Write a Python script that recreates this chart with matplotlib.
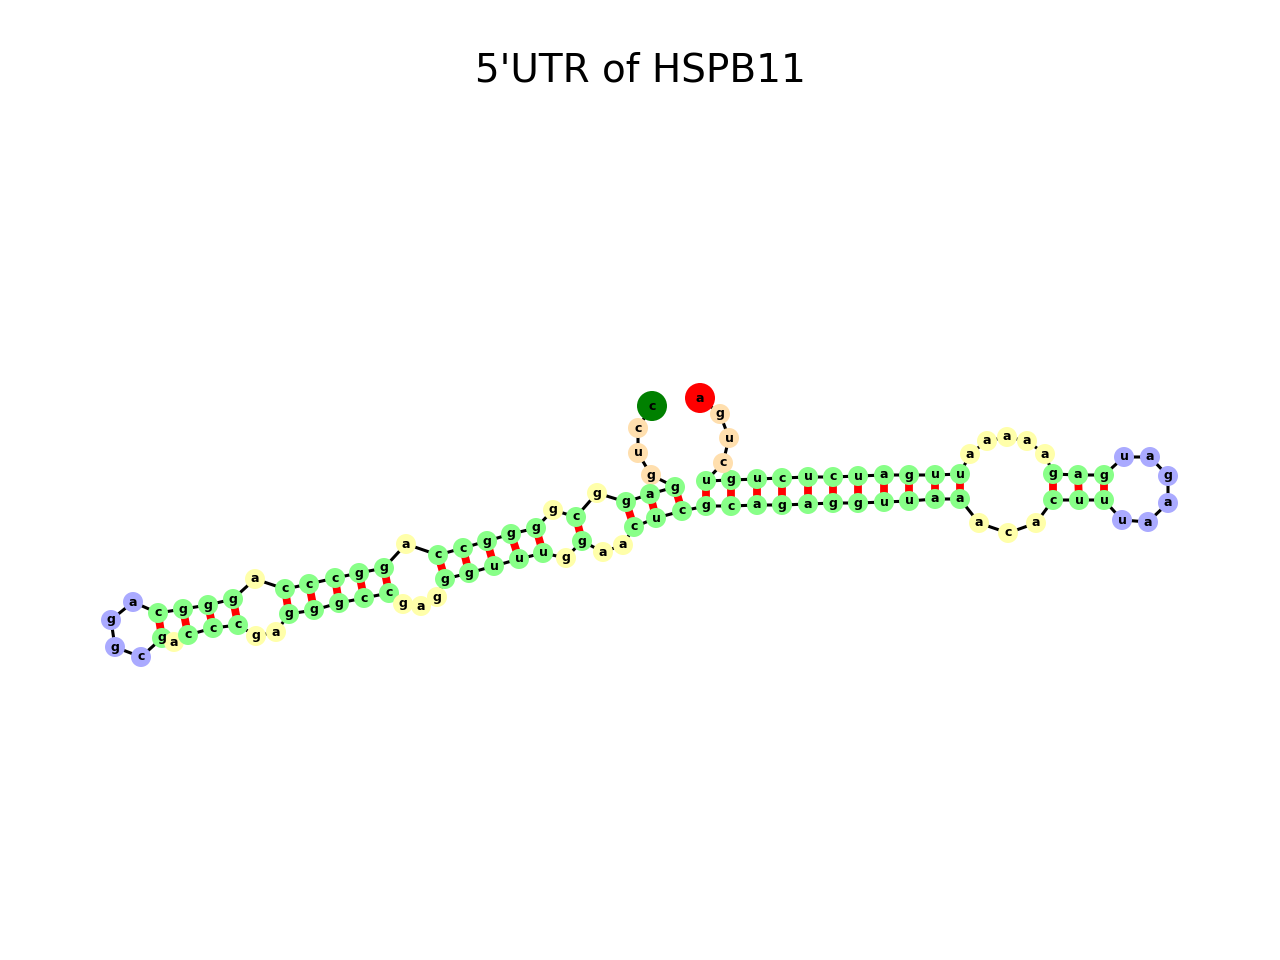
import numpy as np
import matplotlib
matplotlib.use("Agg")
from matplotlib import pyplot as plt

#------------------------------------------------------------------------------
# Secuencia, estructura y posiciones (en px de la imagen).
seq = ("ccug"
       "gaggcggggccaggcccagggc"
       "aggc"
       "gacccgagggccgaggguuuggaacuc"
       "gcagagguuaa" "aca" "cuu" "uaagau" "gag" "aaaaa" "uugaucucugu"
       "cuga")

structure = ("...."
             "(((.(.(((((.(((((.(((("
             "...."
             ").)))..)))))...))))).)..)))"
             "(((((((((((" "..." "(((" "......" ")))" "....." ")))))))))))"
             "....")

x = [652, 638, 638, 651,
     675, 650, 626, 597, 576, 553, 536, 511, 487, 463, 438, 406,
     384, 359, 335, 309, 285, 255, 233, 208, 183, 158,
     133, 111, 115, 141,
     162, 174, 188, 213, 238, 256, 276, 289, 314, 339, 364, 389,
     403, 421, 437, 445, 469, 494, 519, 543, 566, 582, 603, 623,
     634, 656, 682,
     706, 731, 757, 782, 808, 833, 858, 884, 909, 935, 960,
     979, 1008, 1036, 1053, 1079, 1104,
     1122, 1148, 1168, 1168, 1150, 1124,
     1104, 1078, 1053, 1045, 1027, 1007, 987, 970,
     960, 935, 909, 884, 858, 833, 808, 782, 757, 731, 706,
     723, 729, 720, 700]
y = [406, 428, 453, 475,
     487, 494, 502, 493, 517, 510, 528, 534, 541, 548, 555, 544,
     568, 573, 578, 584, 589, 579, 599, 605, 609, 613,
     602, 620, 647, 657,
     638, 642, 635, 628, 625, 636, 632, 614, 610, 603, 598, 593,
     604, 606, 597, 579, 573, 566, 559, 553, 558, 541, 552, 545,
     527, 518, 511,
     506, 506, 505, 505, 504, 503, 503, 502, 501, 499, 499,
     523, 533, 523, 500, 500, 500,
     520, 522, 503, 476, 457, 457,
     475, 475, 474, 454, 441, 437, 441, 454,
     474, 475, 475, 475, 476, 477, 477, 478, 479, 480, 481,
     463, 438, 414, 398]

titulo = "5'UTR of HSPB11"

colores = {"s": "#88ff88", "i": "#ffffaa", "h": "#aaaaff", "f": "#ffdfae"}

assert len(seq) == len(structure) == len(x) == len(y)

#------------------------------------------------------------------------------
# Pares de bases a partir del dot-bracket.
pila = []
pares = []
pareja = [-1] * len(structure)
for i, ch in enumerate(structure):
    if ch == "(":
        pila.append(i)
    elif ch == ")":
        j = pila.pop()
        pares.append((j, i))
        pareja[i] = j
        pareja[j] = i

# Tipo de elemento de cada nucleotido.
tipo = []
for i, ch in enumerate(structure):
    if ch != ".":
        tipo.append("s")
        continue
    # buscamos el par que lo encierra
    prof = 0
    k = i - 1
    cierre = -1
    while k >= 0:
        if structure[k] == ")":
            prof += 1
        elif structure[k] == "(":
            if prof == 0:
                cierre = k
                break
            prof -= 1
        k -= 1
    if cierre < 0:
        tipo.append("f")
        continue
    # contamos pares internos del bucle
    internos = 0
    k = cierre + 1
    while k < pareja[cierre]:
        if structure[k] == "(":
            internos += 1
            k = pareja[k] + 1
        else:
            k += 1
    tipo.append("h" if internos == 0 else "i")

#------------------------------------------------------------------------------
fig = plt.figure(figsize=(6.4, 4.8), dpi=200)
ax = fig.add_axes([0, 0, 1, 1])
ax.set_xlim(0, 1280)
ax.set_ylim(960, 0)
ax.axis("off")

# Esqueleto.
ax.plot(x, y, color="black", linewidth=1.1, zorder=0)
# Pares de bases.
for a, b in pares:
    ax.plot([x[a], x[b]], [y[a], y[b]], color="red", linewidth=2.8, zorder=0)

# Circulos y letras.
n = len(seq)
for i in range(n):
    r = 10
    c = colores[tipo[i]]
    if i == 0:
        c, r = "green", 15
    elif i == n - 1:
        c, r = "red", 15
    ax.add_patch(plt.Circle((x[i], y[i]), r, facecolor=c, edgecolor="none", zorder=1))
    ax.text(x[i], y[i], seq[i], ha="center", va="center", fontsize=4.5,
            fontweight="bold", zorder=2)

fig.text(0.5, 1 - 82 / 960, titulo, ha="center", va="baseline", fontsize=14)

fig.savefig("out.png")
